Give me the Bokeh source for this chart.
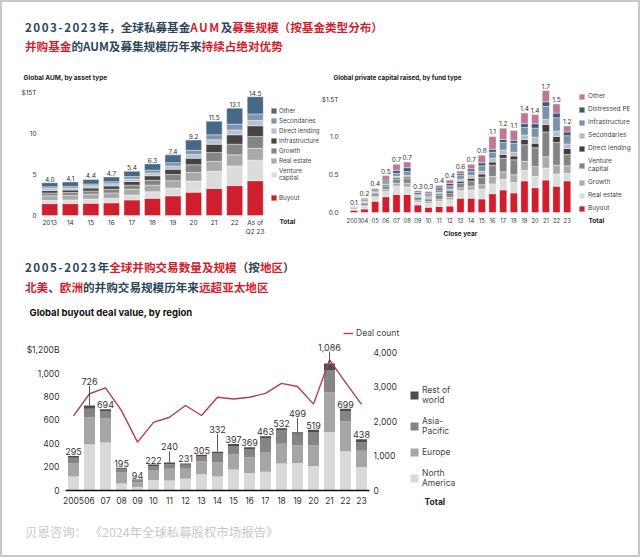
from bokeh.plotting import figure
from bokeh.models import (Range1d, LinearAxis, ColumnDataSource, LabelSet, Label,
                          Legend, LegendItem, FixedTicker, Div, NumeralTickFormatter)
from bokeh.layouts import column, row
from bokeh.core.properties import value
from bokeh.embed import file_html
from bokeh.resources import INLINE

RED = "#cf1f2e"
DARK = "#2d4659"
FONT = "Inter"
TXT = "#333333"

# ---------------- Chart 1: Global AUM, by asset type ($T) ----------------
aum_years = ["2013", "14", "15", "16", "17", "18", "19", "20", "21", "22", "As of\nQ2 23"]
aum_labels = ["4.0", "4.1", "4.4", "4.7", "5.4", "6.3", "7.4", "9.2", "11.5", "13.1", "14.5"]
aum_buyout = [1.45, 1.45, 1.5, 1.55, 1.9, 2.1, 2.4, 2.85, 3.3, 3.65, 4.25]
aum_venture = [0.4, 0.45, 0.5, 0.55, 0.6, 0.8, 0.95, 1.35, 2.1, 2.4, 2.5]
aum_real_estate = [0.55, 0.55, 0.6, 0.65, 0.7, 0.8, 0.9, 1.05, 1.2, 1.35, 1.45]
aum_growth = [0.35, 0.35, 0.4, 0.45, 0.5, 0.6, 0.75, 0.95, 1.1, 1.3, 1.45]
aum_infra = [0.3, 0.3, 0.35, 0.4, 0.45, 0.55, 0.65, 0.8, 1.0, 1.15, 1.3]
aum_direct = [0.25, 0.25, 0.27, 0.28, 0.3, 0.35, 0.4, 0.45, 0.55, 0.6, 0.65]
aum_second = [0.2, 0.2, 0.23, 0.25, 0.3, 0.35, 0.4, 0.5, 0.6, 0.7, 0.8]
aum_other = [0.5, 0.55, 0.55, 0.57, 0.65, 0.75, 0.95, 1.25, 1.65, 1.95, 2.1]
aum_yticks = [0, 5, 10, 15]
aum_names = ["Buyout", "Venture\ncapital", "Real estate", "Growth", "Infrastructure",
             "Direct lending", "Secondaries", "Other"]
aum_colors = [RED, "#dcdcdc", "#a9a9a9", "#858585", "#444444", "#b9c1d1", "#8095ab", "#476886"]

# ---------------- Chart 2: Global private capital raised ($T) ----------------
cap_years = ["2003", "04", "05", "06", "07", "08", "09", "10", "11", "12", "13", "14", "15",
             "16", "17", "18", "19", "20", "21", "22", "23"]
cap_labels = ["0.1", "0.2", "0.4", "0.5", "0.7", "0.7", "0.3", "0.3", "0.4", "0.4", "0.6", "0.7",
              "0.8", "1.1", "1.2", "1.1", "1.4", "1.4", "1.7", "1.5", "1.2"]
cap_buyout = [0.03, 0.045, 0.15, 0.21, 0.24, 0.24, 0.10, 0.07, 0.08, 0.085, 0.19, 0.19, 0.18,
              0.25, 0.30, 0.26, 0.42, 0.33, 0.43, 0.35, 0.42]
cap_real_estate = [0.01, 0.035, 0.05, 0.07, 0.11, 0.10, 0.04, 0.05, 0.07, 0.085, 0.10, 0.11, 0.13,
                   0.13, 0.14, 0.14, 0.14, 0.15, 0.16, 0.16, 0.10]
cap_growth = [0.005, 0.015, 0.02, 0.03, 0.04, 0.05, 0.025, 0.025, 0.03, 0.035, 0.04, 0.05, 0.06,
              0.10, 0.10, 0.10, 0.12, 0.13, 0.15, 0.12, 0.10]
cap_venture = [0.015, 0.03, 0.03, 0.04, 0.05, 0.06, 0.035, 0.035, 0.05, 0.055, 0.055, 0.07, 0.10,
               0.15, 0.18, 0.20, 0.22, 0.25, 0.33, 0.30, 0.15]
cap_direct = [0.003, 0.008, 0.01, 0.015, 0.02, 0.02, 0.01, 0.01, 0.015, 0.025, 0.03, 0.035, 0.04,
              0.04, 0.05, 0.05, 0.07, 0.06, 0.10, 0.08, 0.08]
cap_second = [0.004, 0.01, 0.01, 0.015, 0.02, 0.025, 0.015, 0.02, 0.02, 0.025, 0.03, 0.035, 0.04,
              0.05, 0.06, 0.05, 0.06, 0.08, 0.07, 0.07, 0.06]
cap_infra = [0.004, 0.012, 0.015, 0.03, 0.04, 0.05, 0.02, 0.025, 0.035, 0.045, 0.045, 0.06, 0.07,
             0.08, 0.10, 0.12, 0.10, 0.12, 0.17, 0.18, 0.11]
cap_distressed = [0.004, 0.015, 0.015, 0.02, 0.04, 0.05, 0.02, 0.02, 0.025, 0.03, 0.025, 0.03, 0.04,
                  0.04, 0.04, 0.04, 0.05, 0.06, 0.06, 0.06, 0.05]
cap_other = [0.004, 0.02, 0.02, 0.06, 0.08, 0.075, 0.025, 0.025, 0.035, 0.045, 0.035, 0.06, 0.10,
             0.17, 0.15, 0.13, 0.14, 0.12, 0.15, 0.12, 0.08]
cap_yticks = [0, 0.5, 1.0, 1.5]
cap_names = ["Buyout", "Real estate", "Growth", "Venture\ncapital", "Direct lending",
             "Secondaries", "Infrastructure", "Distressed PE", "Other"]
cap_colors = [RED, "#dcdcdc", "#ababab", "#838383", "#3f3f3f", "#b4bdc7", "#7b91a7", "#3c5a74", "#bd7896"]

# ---------------- Chart 3: Global buyout deal value, by region ($B) ----------------
deal_years = ["2005", "06", "07", "08", "09", "10", "11", "12", "13", "14", "15", "16", "17",
              "18", "19", "20", "21", "22", "23"]
deal_labels = ["295", "726", "694", "195", "94", "222", "240", "231", "305", "332", "397", "369",
               "463", "532", "499", "519", "1,086", "699", "438"]
deal_na = [120, 395, 410, 60, 30, 90, 85, 100, 140, 120, 180, 150, 160, 230, 235, 210, 500, 335, 200]
deal_europe = [110, 230, 210, 95, 40, 85, 100, 85, 110, 120, 130, 135, 170, 170, 150, 175, 340, 255, 140]
deal_apac = [50, 75, 55, 30, 18, 35, 40, 35, 45, 80, 70, 70, 115, 115, 100, 115, 190, 90, 75]
deal_row = [15, 26, 19, 10, 6, 12, 15, 11, 10, 12, 17, 14, 18, 17, 14, 19, 56, 19, 23]
deal_count = [2160, 2800, 2970, 2310, 1400, 1970, 2120, 2460, 2170, 2700, 2650, 2700, 2810,
              3100, 3010, 2500, 3780, 3130, 2490]
deal_yticks = [0, 200, 400, 600, 800, 1000, 1200]
count_yticks = [0, 1000, 2000, 3000, 4000]
deal_names = ["North\nAmerica", "Europe", "Asia-\nPacific", "Rest of\nworld"]
deal_colors = ["#d9d9d9", "#a6a6a6", "#858585", "#4d4d4d"]
# label raise (px) for labels with leader lines
label_raise = {"06": 20, "11": 11, "14": 18, "19": 14, "21": 12}


def full_frame_fig(W, H, n, L, R, B, T, vmax):
    """Figure whose frame fills it; bars area spans pixels L..R, value 0 at B, vmax at T (from top)."""
    pitch = (R - L) / n
    x0 = -0.5 - L / pitch
    ppu = (B - T) / vmax
    y0 = -(H - B) / ppu
    p = figure(width=W, height=H, x_range=Range1d(x0, x0 + W / pitch),
               y_range=Range1d(y0, y0 + H / ppu), output_backend="svg", toolbar_location=None,
               title=None, x_axis_location=None, y_axis_location=None, min_border=0)
    p.outline_line_color = None
    p.background_fill_color = None
    p.border_fill_color = None
    p.grid.visible = False
    return p, ppu


def axis(ax, size, standoff):
    ax.major_tick_line_color = None
    ax.minor_tick_line_color = None
    ax.major_tick_out = 0
    ax.major_tick_in = 0
    ax.minor_tick_out = 0
    ax.axis_line_color = None
    ax.major_label_text_font = FONT
    ax.major_label_text_color = TXT
    ax.major_label_text_font_size = size
    ax.major_label_standoff = standoff
    return ax


def cat_axis(labels, size, standoff):
    n = len(labels)
    ax = LinearAxis(fixed_location=0, ticker=FixedTicker(ticks=list(range(n))),
                    major_label_overrides={i: t for i, t in enumerate(labels)}, bounds=(-0.5, n - 0.5))
    return axis(ax, size, standoff)


def make_legend(items, x, y, fsize, glyph, spacing, lh=1.2, standoff=3):
    return Legend(items=items, location=(x, y), orientation="vertical",
                  glyph_width=glyph, glyph_height=glyph, label_height=glyph, label_width=10,
                  label_text_font=FONT, label_text_font_size=fsize, label_text_color="#444444",
                  label_text_line_height=lh, label_standoff=standoff, spacing=spacing,
                  padding=0, margin=0, border_line_color=None, background_fill_alpha=0)


def lbl(text, x, y, size, bold=False, color="#222222", align="left"):
    return Label(x=x, y=y, x_units="screen", y_units="screen", text=text, text_font=FONT,
                 text_font_size=size, text_font_style="bold" if bold else "normal",
                 text_color=color, text_baseline="middle", text_align=align)


# ---------------- figure 1 ----------------
p1, _ = full_frame_fig(320, 180, len(aum_years), 39, 265, 150, 23, 15.5)
xs1 = list(range(len(aum_years)))
keys1 = ["buyout", "venture", "real_estate", "growth", "infra", "direct", "second", "other"]
src1 = ColumnDataSource(dict(x=xs1, buyout=aum_buyout, venture=aum_venture,
                             real_estate=aum_real_estate, growth=aum_growth, infra=aum_infra,
                             direct=aum_direct, second=aum_second, other=aum_other))
r1 = p1.vbar_stack(keys1, x="x", width=0.78, source=src1, fill_color=aum_colors,
                   line_color="white", line_width=0.4)
tops1 = [sum(v) for v in zip(aum_buyout, aum_venture, aum_real_estate, aum_growth, aum_infra,
                             aum_direct, aum_second, aum_other)]
p1.add_layout(LabelSet(x="x", y="top", text="t", source=ColumnDataSource(dict(x=xs1, top=tops1, t=aum_labels)),
                       text_align="center", text_baseline="bottom", y_offset=1,
                       text_font=value(FONT), text_font_size=value("6.5px"), text_color=TXT))
p1.add_layout(cat_axis(aum_years, "6.5px", 3), "below")
ya1 = axis(LinearAxis(fixed_location=-0.5, ticker=FixedTicker(ticks=aum_yticks),
                      major_label_overrides={15: "$15T"}), "6.5px", 3)
p1.add_layout(ya1, "left")
p1.add_layout(lbl("Global AUM, by asset type", 23, 168, "6.5px", bold=True))
p1.add_layout(lbl("Total", 279, 24, "6.5px", bold=True))
order1 = [7, 6, 5, 4, 3, 2, 1]
p1.add_layout(make_legend([LegendItem(label=aum_names[i], renderers=[r1[i]]) for i in order1],
                          270, 64, "6.2px", 7, 3, standoff=2))
p1.add_layout(make_legend([LegendItem(label=aum_names[0], renderers=[r1[0]])],
                          270, 44, "6.2px", 7, 3, standoff=2))

# ---------------- figure 2 ----------------
p2, _ = full_frame_fig(320, 180, len(cap_years), 28, 252, 147, 19, 1.7)
xs2 = list(range(len(cap_years)))
keys2 = ["buyout", "real_estate", "growth", "venture", "direct", "second", "infra", "distressed", "other"]
src2 = ColumnDataSource(dict(x=xs2, buyout=cap_buyout, real_estate=cap_real_estate,
                             growth=cap_growth, venture=cap_venture, direct=cap_direct,
                             second=cap_second, infra=cap_infra, distressed=cap_distressed,
                             other=cap_other))
r2 = p2.vbar_stack(keys2, x="x", width=0.68, source=src2, fill_color=cap_colors,
                   line_color="white", line_width=0.4)
tops2 = [sum(v) for v in zip(cap_buyout, cap_real_estate, cap_growth, cap_venture, cap_direct,
                             cap_second, cap_infra, cap_distressed, cap_other)]
p2.add_layout(LabelSet(x="x", y="top", text="t", source=ColumnDataSource(dict(x=xs2, top=tops2, t=cap_labels)),
                       text_align="center", text_baseline="bottom", y_offset=2,
                       text_font=value(FONT), text_font_size=value("6.5px"), text_color=TXT))
p2.add_layout(cat_axis(cap_years, "5.8px", 5), "below")
ya2 = axis(LinearAxis(fixed_location=-0.5, ticker=FixedTicker(ticks=cap_yticks),
                      formatter=NumeralTickFormatter(format="0.0"),
                      major_label_overrides={1.5: "$1.5T"}), "6.5px", 10)
p2.add_layout(ya2, "left")
p2.add_layout(lbl("Global private capital raised, by fund type", 13, 168, "6.3px", bold=True))
p2.add_layout(lbl("Total", 268, 25, "6.5px", bold=True))
p2.add_layout(lbl("Close year", 140, 12, "6.5px", bold=True, align="center"))
order2 = [8, 7, 6, 5, 4, 3, 2, 1, 0]
p2.add_layout(make_legend([LegendItem(label=cap_names[i], renderers=[r2[i]]) for i in order2],
                          258, 33, "6.5px", 7, 5, lh=1.25))

# ---------------- figure 3 ----------------
p3, ppu3 = full_frame_fig(640, 212, len(deal_years), 65, 369, 190, 38, 1300)
cnt_scale = 4399 / 1300.0
p3.extra_y_ranges = {"count": Range1d(p3.y_range.start * cnt_scale, p3.y_range.end * cnt_scale)}
xs3 = list(range(len(deal_years)))
keys3 = ["na", "europe", "apac", "row"]
src3 = ColumnDataSource(dict(x=xs3, na=deal_na, europe=deal_europe, apac=deal_apac,
                             row=deal_row, count=deal_count))
r3 = p3.vbar_stack(keys3, x="x", width=0.69, source=src3, fill_color=deal_colors, line_color=None)
line_r = p3.line(x="x", y="count", source=src3, y_range_name="count", line_color="#ad3f51",
                 line_width=1.4)
tops3 = [sum(v) for v in zip(deal_na, deal_europe, deal_apac, deal_row)]
offs3 = [1 + label_raise.get(y, 0) for y in deal_years]
p3.add_layout(LabelSet(x="x", y="top", text="t", y_offset="off",
                       source=ColumnDataSource(dict(x=xs3, top=tops3, t=deal_labels, off=offs3)),
                       text_align="center", text_baseline="bottom",
                       text_font=value(FONT), text_font_size=value("9px"), text_color=TXT))
lead_x = [i for i, y in enumerate(deal_years) if y in label_raise]
lead_y0 = [tops3[i] for i in lead_x]
lead_y1 = [tops3[i] + label_raise[deal_years[i]] / ppu3 for i in lead_x]
p3.segment(x0=lead_x, y0=lead_y0, x1=lead_x, y1=lead_y1, line_color="#444444", line_width=0.9)
xa3 = cat_axis(deal_years, "8.5px", 6)
xa3.axis_line_color = "#111111"
xa3.axis_line_width = 1.6
p3.add_layout(xa3, "below")
p3.add_layout(axis(LinearAxis(fixed_location=-0.5, ticker=FixedTicker(ticks=deal_yticks),
                              formatter=NumeralTickFormatter(format="0,0"),
                              major_label_overrides={1200: "$1,200B"}), "8.5px", 6), "left")
p3.add_layout(axis(LinearAxis(fixed_location=len(deal_years) - 0.5, y_range_name="count",
                              ticker=FixedTicker(ticks=count_yticks),
                              formatter=NumeralTickFormatter(format="0,0")), "8.5px", 4), "right")
p3.add_layout(lbl("Global buyout deal value, by region", 29, 200, "9.5px", bold=True, color="#111111"))
p3.add_layout(lbl("Total", 424, 11, "8.5px", bold=True))
p3.add_layout(make_legend([LegendItem(label="Deal count", renderers=[line_r])],
                          343, 174, "8.5px", 10, 0))
order3 = [3, 2, 1, 0]
p3.add_layout(make_legend([LegendItem(label=deal_names[i], renderers=[r3[i]]) for i in order3],
                          409, 24, "8.5px", 10, 11))

# ---------------- headers ----------------
def span(t, c, extra=""):
    return f'<span style="color:{c};{extra}">{t}</span>'

LS = "letter-spacing:1.5px;"
hstyle = ("font-family:'Noto Sans CJK SC';font-weight:bold;font-size:11.6px;"
          "white-space:nowrap;")
head1 = Div(width=640, height=65, margin=0, text=(
    f'<div style="{hstyle}line-height:19px;padding:18px 0 0 25px;">'
    + span("2003-2023", DARK, LS) + span("年，全球私募基金", DARK) + span("AUM", RED, LS)
    + span("及", DARK) + span("募集规模（按基金类型分布）", RED) + "<br>"
    + span("并购基金", RED) + span("的AUM及募集规模历年来", DARK) + span("持续占绝对优势", RED)
    + "</div>"))
head2 = Div(width=640, height=55, margin=0, text=(
    f'<div style="{hstyle}line-height:20px;padding:12px 0 0 25px;">'
    + span("2005-2023", DARK, LS) + span("年", DARK) + span("全球并购交易数量及规模", RED)
    + span("（按", DARK) + span("地区", RED) + span("）", DARK) + "<br>"
    + span("北美", RED) + span("、", DARK) + span("欧洲", RED) + span("的并购交易规模历年来", DARK)
    + span("远超亚太地区", RED)
    + "</div>"))
source = Div(width=640, height=45, margin=0, text=(
    '<div style="font-family:\'Noto Sans CJK SC\';font-size:12.4px;color:#c9c9c9;'
    'line-height:16px;padding:12px 0 0 25px;white-space:nowrap;">'
    '贝恩咨询： 《2024年全球私募股权市场报告》</div>'))

layout = column(head1, row(p1, p2, spacing=0), head2, p3, source, spacing=0,
                styles={"box-shadow": "inset 0 0 0 2px #c8c8c8", "background-color": "white"})
open("out.html", "w").write(file_html(layout, INLINE))
